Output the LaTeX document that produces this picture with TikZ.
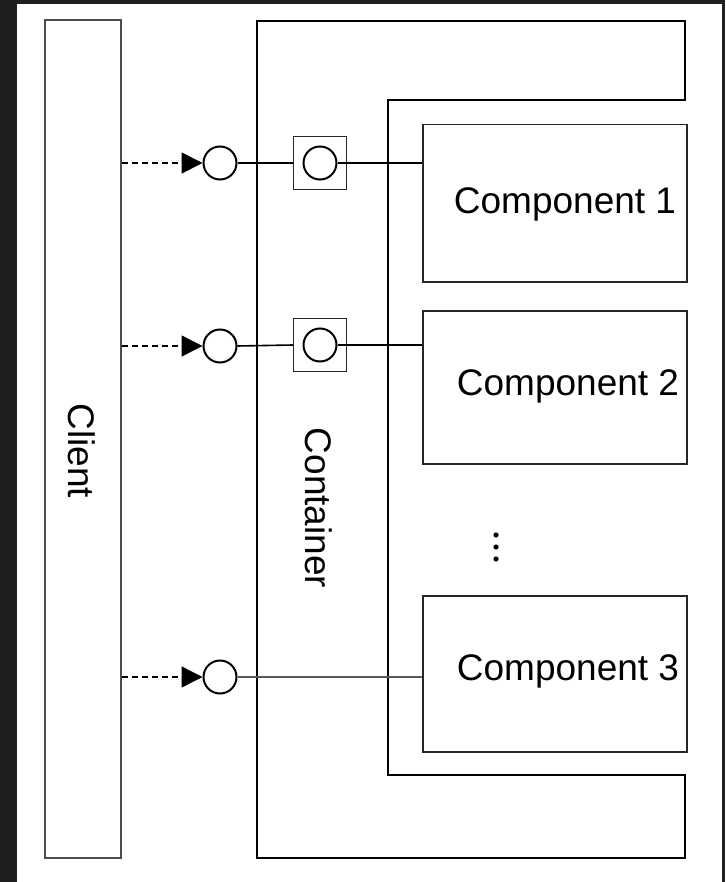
\documentclass[tikz,border=0pt]{standalone}
\usepackage{fontspec}
\setmainfont{Liberation Sans}
\usetikzlibrary{arrows.meta}
\begin{document}
\begin{tikzpicture}[x=1pt,y=-1pt,
  box/.style={draw=black!85,line width=1.5pt,fill=white,inner sep=0pt},
  lbl/.style={font=\fontsize{37}{40}\selectfont,inner sep=0pt},
  port/.style={circle,draw=black,line width=2pt,fill=white,minimum size=33pt,inner sep=0pt},
  sq/.style={draw=black!85,line width=1.5pt,fill=white,minimum size=53pt,inner sep=0pt},
  link/.style={line width=1.8pt,draw=black},
  call/.style={line width=1.8pt,dash pattern=on 6pt off 4pt,-{Triangle[length=21pt,width=21pt]}}]
\useasboundingbox (0,0) rectangle (725,882);
\fill[black!88] (0,0) rectangle (725,882);
\fill[white] (17,4) rectangle (722,882);
% client
\node[box,draw=black!70,line width=1.8pt,minimum width=76pt,minimum height=838pt,anchor=north west] (client) at (44,19) {};
\node[lbl,rotate=-90] (clientlbl) at (82,451) {Client};
% container
\coordinate (k1) at (257,21);
\coordinate (k2) at (685,21);
\coordinate (k3) at (685,100);
\coordinate (k4) at (388,100);
\coordinate (k5) at (388,775);
\coordinate (k6) at (685,775);
\coordinate (k7) at (685,858);
\coordinate (k8) at (257,858);
\draw[line width=2.8pt,line join=miter] (k1) -- (k2) -- (k3) -- (k4) -- (k5) -- (k6) -- (k7) -- (k8) -- cycle;
\node[lbl,rotate=-90] (contlbl) at (319,508) {Container};
% components
\node[box,minimum width=264pt,minimum height=157pt,anchor=north west] (comp1) at (422,124) {};
\node[lbl] (comp1lbl) at (565,204) {Component 1};
\node[box,minimum width=264pt,minimum height=153pt,anchor=north west] (comp2) at (422,310) {};
\node[lbl] (comp2lbl) at (568,386) {Component 2};
\node[box,minimum width=264pt,minimum height=156pt,anchor=north west] (comp3) at (422,595) {};
\node[lbl] (comp3lbl) at (568,671) {Component 3};
% ellipsis
\fill (496,535) circle (2.6pt) (496,547) circle (2.6pt) (496,559) circle (2.6pt);
% ports
\node[port] (o1) at (220,163) {};
\node[port] (o2) at (220,346) {};
\node[port] (o3) at (220,677) {};
\node[sq] (s1) at (320,163) {};
\node[port] (c1) at (320,163) {};
\node[sq] (s2) at (320,345) {};
\node[port] (c2) at (320,345) {};
% connectors
\draw[call] (client.east |- o1) -- (o1.west);
\draw[call,line width=1.4pt] (client.east |- o2) -- (o2.west);
\draw[call,line width=1.4pt] (client.east |- o3) -- (o3.west);
\draw[link] (o1.east) -- (s1.west);
\draw[link] (c1.east) -- (comp1.west |- c1);
\draw[link,line width=1.6pt] (o2.east) -- (s2.west);
\draw[link,line width=1.6pt] (c2.east) -- (comp2.west |- c2);
\draw[link,line width=1.3pt,draw=black!65] (o3.east) -- (comp3.west |- o3);
\end{tikzpicture}
\end{document}
